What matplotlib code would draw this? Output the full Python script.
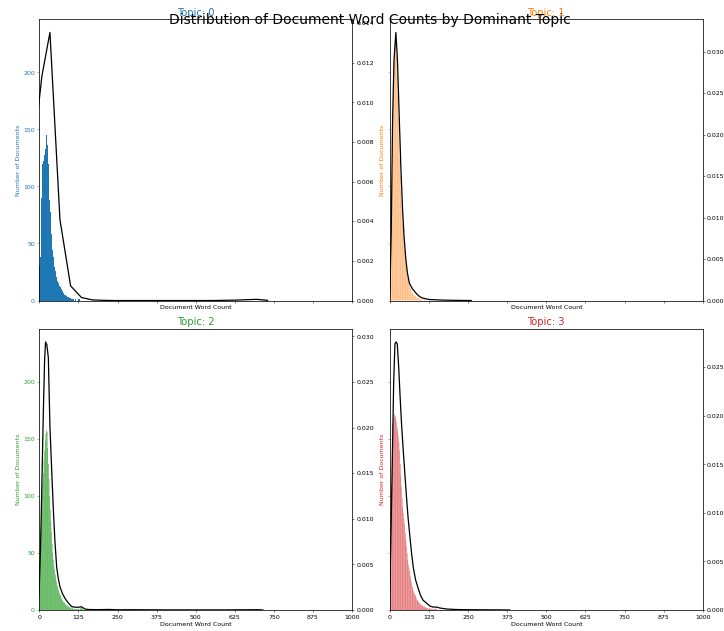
import numpy as np
import matplotlib.pyplot as plt
import matplotlib.colors as mcolors

# histogram: number of documents per word-count bin (bins of BIN_STEP words starting at 0)
BIN_STEP = 2

topic0_counts = [30, 38, 62, 90, 115, 120, 122, 126, 128, 133, 138, 145, 147, 136, 120, 100,
                 88, 78, 70, 58, 50, 44, 38, 33, 29, 26, 23, 21, 19, 17, 15, 14, 13, 12, 11,
                 10, 9, 8, 7, 6, 5, 5, 4, 4, 3, 3, 3, 2, 2, 2, 1, 1, 2, 1, 1, 1, 0, 1, 1, 0,
                 1, 0, 1, 0, 1]
topic1_counts = [10, 35, 70, 110, 150, 185, 210, 225, 235, 228, 215, 198, 180, 160, 142, 125,
                 110, 97, 86, 76, 67, 58, 50, 43, 37, 32, 28, 24, 20, 17, 15, 13, 11, 10, 8,
                 7, 6, 6, 5, 4, 4, 3, 3, 3, 2, 2, 2, 1, 2, 1, 1, 1, 1, 0, 1, 1, 0, 1]
topic2_counts = [40, 55, 70, 88, 100, 112, 120, 132, 140, 148, 155, 158, 156, 142, 128, 115,
                 100, 88, 78, 68, 58, 50, 44, 39, 35, 31, 28, 25, 22, 20, 18, 16, 14, 13, 12,
                 10, 9, 8, 7, 7, 6, 5, 5, 4, 4, 3, 3, 3, 2, 2, 2, 1, 2, 1, 1, 1, 1, 0, 1, 1,
                 0, 1, 1, 1, 0, 1, 2, 2, 1, 1, 0]
topic3_counts = [15, 60, 110, 150, 163, 168, 170, 172, 170, 168, 165, 160, 157, 152, 147, 140,
                 128, 118, 108, 98, 90, 85, 80, 75, 68, 62, 56, 50, 44, 40, 37, 34, 30, 27, 24,
                 21, 19, 17, 15, 14, 13, 12, 10, 9, 8, 7, 7, 6, 5, 5, 4, 4, 4, 3, 3, 3, 2, 2,
                 2, 2, 1, 1, 2, 1, 1, 1, 1, 0, 1, 1, 0, 1, 1, 1, 1]

# density curves (word count, density)
topic0_kde_x = [-25, 8, 34, 66, 100, 135, 170, 205, 240, 275, 310, 345, 380, 415, 450, 485,
                520, 555, 590, 625, 660, 695, 730]
topic0_kde_y = [0.0065, 0.0113, 0.01352, 0.00408, 0.00074, 0.00015, 0.00003, 0.00001, 0.0,
                0.0, 0.0, 0.0, 0.0, 0.0, 0.0, 0.0, 0.0, 0.0, 0.00001, 0.00002, 0.00004,
                0.00006, 0.00001]
topic1_kde_x = [-5, 0, 4, 8.5, 13, 19, 24, 30, 35, 40, 45, 51, 56, 62, 72, 83, 94, 104, 126,
                150, 170, 200, 230, 260]
topic1_kde_y = [0.0, 0.0013, 0.008, 0.0218, 0.029, 0.0323, 0.029, 0.0218, 0.016, 0.0113,
                0.0078, 0.0049, 0.0033, 0.0021, 0.0014, 0.0009, 0.0005, 0.0003, 0.00012,
                0.00008, 0.00005, 0.00003, 0.00001, 0.0]
topic2_kde_x = [-5, 0, 4, 7.6, 13, 17, 20, 24, 28.8, 34, 40, 45, 50, 55.5, 61, 66, 74, 82,
                92, 103.5, 115, 125, 135, 146, 160, 180, 194, 220, 250, 300, 400, 500, 600,
                700, 715]
topic2_kde_y = [0.0, 0.00255, 0.007, 0.0128, 0.0219, 0.0275, 0.0294, 0.0291, 0.0277, 0.0201,
                0.015, 0.0109, 0.0075, 0.0047, 0.0034, 0.00255, 0.0018, 0.00128, 0.0008,
                0.00037, 0.0003, 0.0003, 0.00035, 0.0001, 0.00005, 0.00004, 0.00004,
                0.00006, 0.00002, 0.00003, 0.00001, 0.00001, 0.00001, 0.00003, 0.0]
topic3_kde_x = [-3, 0, 4, 8.5, 12, 16, 20, 23.4, 28, 32, 37, 42.6, 48, 53, 58, 64, 69, 74.5,
                82, 90.5, 98, 106, 117, 128, 138, 149, 160, 181, 210, 245, 300, 350, 383]
topic3_kde_y = [0.0, 0.0024, 0.009, 0.0171, 0.0235, 0.0274, 0.0276, 0.0274, 0.025, 0.0223,
                0.0192, 0.0164, 0.0139, 0.0116, 0.0095, 0.0075, 0.0059, 0.0044, 0.0031,
                0.0022, 0.0015, 0.001, 0.0007, 0.0004, 0.0003, 0.0003, 0.0002, 0.0001,
                0.00005, 0.00003, 0.00002, 0.00001, 0.0]

hist_counts = [topic0_counts, topic1_counts, topic2_counts, topic3_counts]
kde_x = [topic0_kde_x, topic1_kde_x, topic2_kde_x, topic3_kde_x]
kde_y = [topic0_kde_y, topic1_kde_y, topic2_kde_y, topic3_kde_y]

# topic 0 bars were solid, the others thin and striped
hist_types = ['stepfilled', 'bar', 'bar', 'bar']
bar_fill = [1.0, 0.5, 0.85, 0.6]

cols = [color for name, color in mcolors.TABLEAU_COLORS.items()]

fig, axes = plt.subplots(2, 2, figsize=(16, 13.95), dpi=45.25, sharex=True, sharey=True)
fig.subplots_adjust(left=0.0543, right=0.9706, bottom=0.0333, top=0.9694,
                    wspace=0.121, hspace=0.0995)

for i, ax in enumerate(axes.flatten()):
    counts = np.array(hist_counts[i])
    edges = np.arange(len(counts) + 1) * BIN_STEP
    if hist_types[i] == 'bar':
        # snap=False so the thin bars blend instead of jumping to whole pixels
        ax.hist(edges[:-1], bins=edges, weights=counts, rwidth=bar_fill[i], color=cols[i],
                snap=False)
    else:
        ax.hist(edges[:-1], bins=edges, weights=counts, histtype='stepfilled', color=cols[i])
    ax.tick_params(axis='y', labelcolor=cols[i], color=cols[i])

    # density on a second y axis
    ax2 = ax.twinx()
    ax2.plot(kde_x[i], kde_y[i], color='black', linewidth=2)
    ax2.set_ylim(bottom=0)

    ax.set(xlim=(0, 1000), xlabel='Document Word Count')
    ax.set_ylabel('Number of Documents', color=cols[i])
    ax.set_title('Topic: ' + str(i), fontdict=dict(size=16, color=cols[i]))

axes[1, 1].set_xticks(np.linspace(0, 1000, 9))
fig.suptitle('Distribution of Document Word Counts by Dominant Topic', fontsize=22, x=0.511)
fig.savefig('out.png')
